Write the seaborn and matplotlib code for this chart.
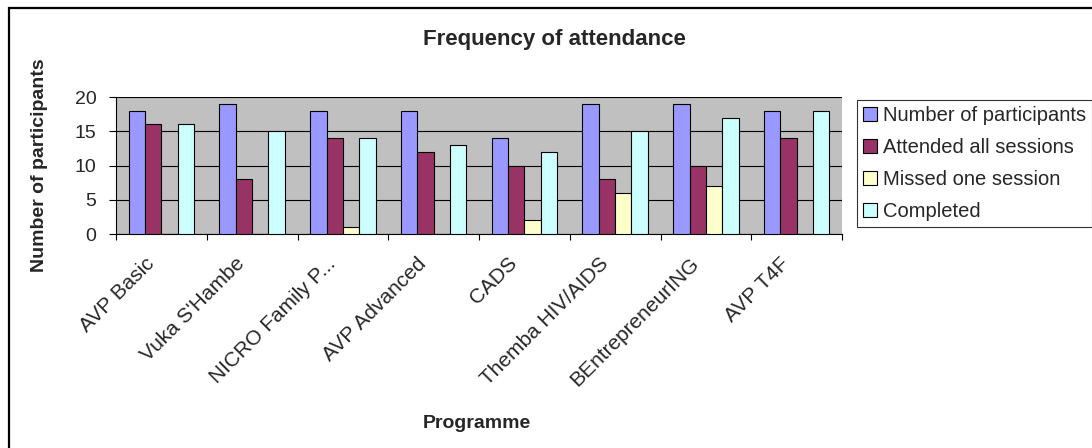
import matplotlib.pyplot as plt
import matplotlib.patches as mpatches
import matplotlib.transforms as mtransforms
import numpy as np
import pandas as pd
import seaborn as sns

programmes = ["AVP Basic", "Vuka S'Hambe", "NICRO Family P...", "AVP Advanced",
              "CADS", "Themba HIV/AIDS", "BEntrepreneurING", "AVP T4F"]
series_names = ["Number of participants", "Attended all sessions",
                "Missed one session", "Completed"]
participants = [18, 19, 18, 18, 14, 19, 19, 18]
attended_all = [16, 8, 14, 12, 10, 8, 10, 14]
missed_one = [0, 0, 1, 0, 2, 6, 7, 0]
completed = [16, 15, 14, 13, 12, 15, 17, 18]
colors = ["#9999FF", "#993366", "#FFFFCC", "#CCFFFF"]


def main():
    rows = []
    for name, vals in zip(series_names, [participants, attended_all, missed_one, completed]):
        for p, v in zip(programmes, vals):
            rows.append({"Programme": p, "value": v, "series": name})
    df = pd.DataFrame(rows)

    sns.set_style("white")
    plt.rcParams['font.family'] = ['Liberation Sans', 'DejaVu Sans']

    fig = plt.figure(figsize=(10.92, 4.48), dpi=100)
    ax = fig.add_axes([116 / 1092, 1 - 234 / 448, 726 / 1092, 137 / 448])
    ax.set_facecolor("#C0C0C0")

    sns.barplot(data=df, x="Programme", y="value", hue="series",
                hue_order=series_names, order=programmes, palette=colors,
                saturation=1, width=0.72, edgecolor="black", linewidth=0.8,
                ax=ax, zorder=3)

    ax.set_ylim(0, 20)
    ax.set_xlim(-0.5, len(programmes) - 0.5)
    ax.set_yticks([0, 5, 10, 15, 20])
    ax.yaxis.grid(True, color="black", linewidth=0.8, zorder=0)
    ax.set_axisbelow(True)
    for s in ["top", "right"]:
        ax.spines[s].set_visible(False)
    for s in ["left", "bottom"]:
        ax.spines[s].set_color("black")
        ax.spines[s].set_linewidth(0.8)

    ax.tick_params(axis="y", which="major", direction="out", length=5,
                   width=0.8, color="black", labelsize=14, left=True, pad=9)
    ax.tick_params(axis="x", which="major", length=0, labelsize=15, pad=19)
    ax.set_xticks(np.arange(-0.5, len(programmes)), minor=True)
    ax.tick_params(axis="x", which="minor", direction="out", length=4.5,
                   width=0.8, color="black", bottom=True)
    ax.set_xticks(range(len(programmes)))
    ax.set_xticklabels(programmes, rotation=45, ha="right", va="center",
                       rotation_mode="anchor")
    shift = mtransforms.ScaledTranslation(-10 / 100, 0, fig.dpi_scale_trans)
    for lab in ax.get_xticklabels():
        lab.set_transform(lab.get_transform() + shift)

    ax.set_xlabel("")
    ax.set_ylabel("")
    fig.text(40 / 1092, 1 - 165 / 448, "Number of participants", rotation=90,
             ha="center", va="center", fontsize=14, fontweight="bold")
    fig.text(477 / 1092, 1 - 423 / 448, "Programme", ha="center", va="center",
             fontsize=14, fontweight="bold")
    fig.text(554 / 1092, 1 - 40 / 448, "Frequency of attendance", ha="center",
             va="center", fontsize=16, fontweight="bold")

    handles = [mpatches.Patch(facecolor=c, edgecolor="black", linewidth=0.8)
               for c in colors]
    ax.get_legend().remove()
    leg = fig.legend(handles, series_names, loc="upper left",
                     bbox_to_anchor=(857 / 1092, 1 - 100 / 448), fontsize=14.5,
                     frameon=True, fancybox=False, edgecolor="black",
                     handlelength=0.7, handleheight=0.7, handletextpad=0.3,
                     labelspacing=0.65, borderpad=0.3, borderaxespad=0)
    leg.get_frame().set_linewidth(0.8)

    frame = mpatches.Rectangle((9 / 1092, -0.1), 1.2, 1.1 - 8 / 448,
                               transform=fig.transFigure, fill=False,
                               edgecolor="black", linewidth=1.6)
    fig.patches.append(frame)

    fig.savefig("out.png", dpi=100)


if __name__ == '__main__':
    main()
